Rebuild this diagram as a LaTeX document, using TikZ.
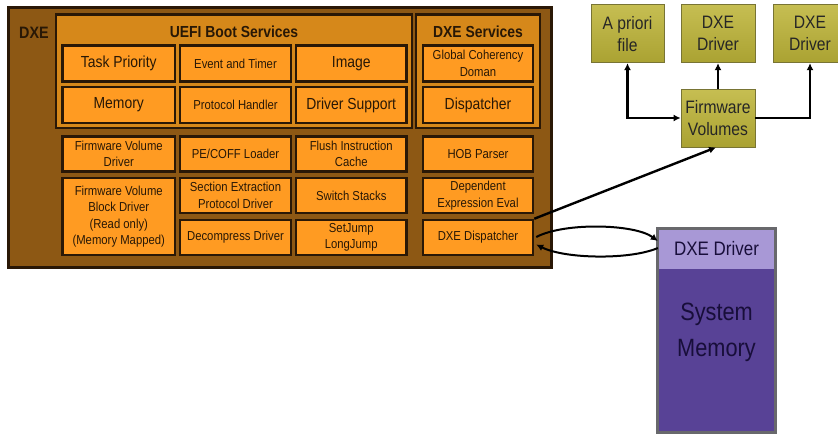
\documentclass[tikz,border=0pt]{standalone}
\usepackage{fontspec}
\setmainfont{Liberation Sans}[FakeStretch=0.87]
\usetikzlibrary{arrows.meta}

\definecolor{dxebrown}{RGB}{141,88,20}
\definecolor{svcorange}{RGB}{214,136,26}
\definecolor{boxorange}{RGB}{255,155,34}
\definecolor{darkedge}{RGB}{42,24,6}
\definecolor{boxtext}{RGB}{40,24,6}
\definecolor{olivetop}{RGB}{198,190,82}
\definecolor{olivebot}{RGB}{170,162,50}
\definecolor{oliveedge}{RGB}{120,116,52}
\definecolor{lilac}{RGB}{168,152,214}
\definecolor{violet}{RGB}{88,66,150}
\definecolor{violettext}{RGB}{24,14,58}
\definecolor{memedge}{RGB}{104,104,108}

\tikzset{
  outerbox/.style={draw=darkedge, line width=3pt, fill=dxebrown},
  svcbox/.style={draw=darkedge, line width=2.5pt, fill=svcorange},
  ob/.style={draw=darkedge, line width=2.5pt, fill=boxorange, text=boxtext,
    align=center, inner sep=0pt},
  big/.style={font=\fontsize{16}{19}\selectfont},
  small/.style={font=\fontsize{13}{16.5}\selectfont},
  title/.style={font=\bfseries\fontsize{16}{19}\selectfont, text=boxtext},
  greenbox/.style={draw=oliveedge, line width=0.8pt, top color=olivetop,
    bottom color=olivebot, align=center, text=black!85,
    font=\fontsize{18}{22}\selectfont, minimum width=74pt, minimum height=58pt,
    inner sep=0pt},
  arr/.style={line width=2.4pt, -{Latex[length=7pt,width=7pt]}},
}

\begin{document}
\begin{tikzpicture}[x=1pt, y=-1pt]
\clip (0,0) rectangle (838,437);
\fill[white] (0,0) rectangle (838,437);

% DXE foundation and its two service groups
\node[outerbox, minimum width=543pt, minimum height=259.5pt] (dxe) at (279.5,137.25) {};
\node[title, font=\bfseries\fontsize{16.5}{19}\selectfont] (dxelbl) at (34,33) {DXE};
\node[svcbox, minimum width=356pt, minimum height=113.5pt] (uefi) at (234,71.25) {};
\node[svcbox, minimum width=124pt, minimum height=113.5pt] (dxesvc) at (478,71.25) {};
\node[title] (uefilbl) at (234,32) {UEFI Boot Services};
\node[title] (dxesvclbl) at (478,32) {DXE Services};

% rows 1-2: boot services and DXE services
\node[ob, big,   minimum width=112.5pt, minimum height=36pt] (tp)  at (118.75,63.5) {Task Priority};
\node[ob, small, minimum width=111pt,   minimum height=36pt] (et)  at (235.5,63.5) {Event and Timer};
\node[ob, big,   minimum width=110.5pt, minimum height=36pt] (img) at (351.25,63.5) {Image};
\node[ob, small, minimum width=110pt,   minimum height=36pt] (gcd) at (478,63.5) {Global Coherency\\Doman};
\node[ob, big,   minimum width=112.5pt, minimum height=36pt] (mem) at (118.75,105) {Memory};
\node[ob, small, minimum width=111pt,   minimum height=36pt] (ph)  at (235.5,105) {Protocol Handler};
\node[ob, big,   minimum width=110.5pt, minimum height=36pt] (ds)  at (351.25,105) {Driver Support};
\node[ob, big,   minimum width=110pt,   minimum height=36pt] (dsp) at (478,105) {Dispatcher};

% rows 3-5: drivers and libraries
\node[ob, small, minimum width=112.5pt, minimum height=35pt] (fvd) at (118.75,153.75) {Firmware Volume\\Driver};
\node[ob, small, minimum width=111pt,   minimum height=35pt] (pe)  at (235.5,153.75) {PE/COFF Loader};
\node[ob, small, minimum width=110.5pt, minimum height=35pt] (fic) at (351.25,153.75) {Flush Instruction\\Cache};
\node[ob, small, minimum width=110pt,   minimum height=35pt] (hob) at (478,153.75) {HOB Parser};
\node[ob, small, minimum width=112.5pt, minimum height=77pt] (fvb) at (118.75,216.5) {Firmware Volume\\Block Driver\\(Read only)\\(Memory Mapped)};
\node[ob, small, minimum width=111pt,   minimum height=35pt] (sx)  at (235.5,195.5) {Section Extraction\\Protocol Driver};
\node[ob, small, minimum width=110.5pt, minimum height=35pt] (ss)  at (351.25,195.5) {Switch Stacks};
\node[ob, small, minimum width=110pt,   minimum height=35pt] (dee) at (478,195.5) {Dependent\\Expression Eval};
\node[ob, small, minimum width=111pt,   minimum height=35pt] (dc)  at (235.5,237.5) {Decompress Driver};
\node[ob, small, minimum width=110.5pt, minimum height=35pt] (sj)  at (351.25,237.5) {SetJump\\LongJump};
\node[ob, small, minimum width=110pt,   minimum height=35pt] (dd)  at (478,237.5) {DXE Dispatcher};

% firmware volumes and the files they hold
\node[greenbox, minimum width=73pt] (ap) at (627.5,33.75) {A priori\\file};
\node[greenbox] (d1) at (718,33.75) {DXE\\Driver};
\node[greenbox] (d2) at (810,33.75) {DXE\\Driver};
\node[greenbox] (fv) at (718,118) {Firmware\\Volumes};

% system memory with a loaded driver on top
\node[fill=violet, minimum width=117pt, minimum height=163pt, inner sep=0pt] (sysmem) at (716.5,350.5) {};
\node[fill=lilac, minimum width=117pt, minimum height=40pt, inner sep=0pt,
      text=violettext, font=\fontsize{19.5}{22}\selectfont] (sysdrv) at (716.5,249) {DXE Driver};
\draw[memedge, line width=3pt] (sysdrv.north west) rectangle (sysmem.south east);
\node[text=violettext, align=center, font=\fontsize{25}{36}\selectfont] (smlbl) at (716.5,332) {System\\Memory};

% connectors
\draw[line width=2.4pt, {Latex[length=7pt,width=7pt]}-{Latex[length=7pt,width=7pt]}] (ap.south) |- (fv.west);
\draw[arr] (fv.north) -- (d1.south);
\draw[arr] (fv.east) -| (d2.south);
\draw[arr] (dd.north east) -- ([xshift=-2pt]fv.south);
\draw[arr, line width=2pt] ([yshift=0.5pt, xshift=2pt]dd.east)
  .. controls (565,222) and (635,224) .. ([yshift=8pt]sysdrv.west);
\draw[arr, line width=2pt] ([yshift=1pt]sysdrv.west)
  .. controls (630,260) and (565,259) .. ([yshift=-7pt, xshift=2pt]dd.east);
\end{tikzpicture}
\end{document}
